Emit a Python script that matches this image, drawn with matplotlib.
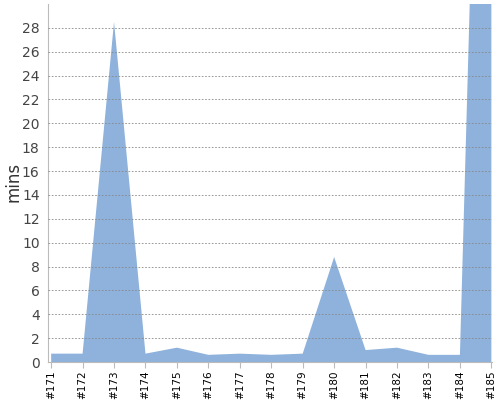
import numpy as np
import matplotlib.pyplot as plt

builds = ['#171', '#172', '#173', '#174', '#175', '#176', '#177', '#178',
          '#179', '#180', '#181', '#182', '#183', '#184', '#185']
mins = [0.7, 0.7, 28.5, 0.7, 1.2, 0.6, 0.7, 0.6, 0.7, 8.8, 1.0, 1.2, 0.6, 0.6, 95.0]

fig = plt.figure(figsize=(5, 4), dpi=100)
ax = fig.add_axes([0.096, 0.095, 0.888, 0.895])

x = np.arange(len(builds))
ax.fill_between(x, mins, 0, color='#8eb2db', linewidth=0)

ax.set_xlim(-0.1, len(builds) - 1 + 0.02)
ax.set_ylim(0, 30)
ax.set_yticks(np.arange(0, 29, 2))
ax.set_xticks(x)
ax.set_xticklabels(builds, rotation=90, fontsize=7.5, color='black')
ax.tick_params(axis='y', labelsize=10, labelcolor='#444444', length=0, pad=6)
ax.tick_params(axis='x', length=4, color='#bbbbbb', pad=2)
ax.grid(axis='y', linestyle=(0, (2, 2)), color='#888888', linewidth=0.6)
ax.set_axisbelow(False)

for s in ['top', 'right']:
    ax.spines[s].set_visible(False)
for s in ['left', 'bottom']:
    ax.spines[s].set_color('#bbbbbb')

fig.text(0.026, 0.545, 'mins', rotation=90, ha='center', va='center',
         fontsize=12, color='#333333')

fig.savefig('out.png')
